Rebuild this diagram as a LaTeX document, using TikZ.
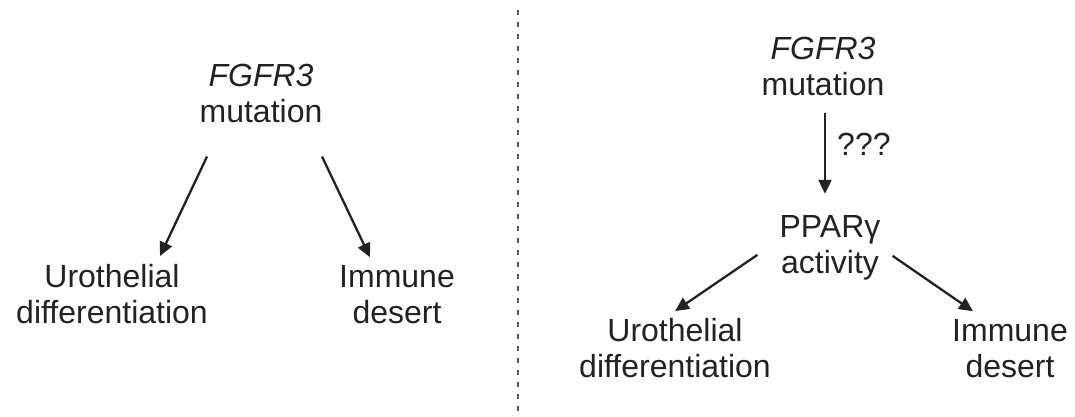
\documentclass[tikz,border=0pt]{standalone}
\usepackage{fontspec}
\setmainfont{Liberation Sans}
\usetikzlibrary{
  arrows.meta, % for Triangle arrow tip
  positioning, % for relative placement
}
\definecolor{ink}{HTML}{222222}
\tikzset{
  term/.style={ % style for each text block
    align=center, % lines centred under each other
    inner sep=0pt, % no padding, arrows are placed from the text edges
    text=ink, % dark grey text
    font=\fontsize{32}{36}\selectfont, % large sans serif text
    anchor=base, % place by the baseline of the last line
  },
  conn/.style={ % style for the arrows
    -{Triangle[length=14pt,width=13pt]}, % solid triangular tip
    line width=2.3pt, % same weight for every arrow
    draw=ink,
  },
  divider/.style={ % dotted line between the two panels
    draw=ink!75,
    line width=2.5pt,
    dash pattern=on 5pt off 7pt,
  },
}
\begin{document}
\begin{tikzpicture}[x=1pt,y=-1pt]
	\useasboundingbox (0,0) rectangle (1075,416);

	% left panel
	\node[term] (mutL) at (261,122) {\textit{FGFR3}\\mutation};
	\node[term] (uroL) at (112,323) {Urothelial\\differentiation};
	\node[term] (immL) at (397,323) {Immune\\desert};

	\draw[conn] ([xshift=-54pt,yshift=-34pt]mutL.south) -- ([xshift=48pt,yshift=7.5pt]uroL.north);
	\draw[conn] ([xshift=61pt,yshift=-34pt]mutL.south) -- ([xshift=-27pt,yshift=7.5pt]immL.north);

	% divider
	\draw[divider] (518,10) -- (518,414);

	% right panel
	\node[term] (mutR) at (823,95) {\textit{FGFR3}\\mutation};
	\node[term] (ppar) at (830,273) {PPARγ\\activity};
	\node[term,anchor=base west] (qq) at (837,155) {???};
	\node[term] (uroR) at (675,377) {Urothelial\\differentiation};
	\node[term] (immR) at (1010,377) {Immune\\desert};

	\draw[conn] ([xshift=2pt,yshift=-17pt]mutR.south) -- ([xshift=-5pt,yshift=21pt]ppar.north);

	\draw[conn] ([xshift=-22pt,yshift=25pt]ppar.south west) -- ([yshift=6.5pt]uroR.north);
	\draw[conn] ([xshift=12pt,yshift=24pt]ppar.south east) -- ([xshift=-37pt,yshift=7.5pt]immR.north);

\end{tikzpicture}
\end{document}
